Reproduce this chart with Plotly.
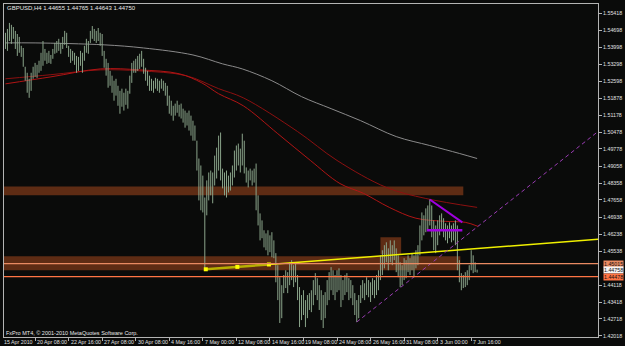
import plotly.graph_objects as go

# ---- OHLC-style bars (high / low), GBPUSD H4, one entry per bar ----
bar_high = [
    1.5460, 1.5476, 1.5501, 1.5493, 1.5484, 1.5468, 1.5455, 1.5443, 1.5406, 1.5397,
    1.5319, 1.5294, 1.5269, 1.5294, 1.5319, 1.5335, 1.5327, 1.5344, 1.5377, 1.5426,
    1.5393, 1.5377, 1.5385, 1.5368, 1.5393, 1.5418, 1.5426, 1.5435, 1.5418, 1.5443,
    1.5468, 1.5460, 1.5406, 1.5393, 1.5385, 1.5377, 1.5364, 1.5360, 1.5385, 1.5377,
    1.5406, 1.5435, 1.5426, 1.5468, 1.5488, 1.5476, 1.5468, 1.5480, 1.5460, 1.5455,
    1.5385, 1.5352, 1.5335, 1.5302, 1.5282, 1.5261, 1.5269, 1.5240, 1.5219, 1.5228,
    1.5211, 1.5228, 1.5219, 1.5282, 1.5335, 1.5344, 1.5352, 1.5364, 1.5373, 1.5385,
    1.5352, 1.5315, 1.5302, 1.5282, 1.5269, 1.5261, 1.5273, 1.5269, 1.5261, 1.5269,
    1.5261, 1.5252, 1.5240, 1.5199, 1.5178, 1.5157, 1.5166, 1.5178, 1.5161, 1.5166,
    1.5145, 1.5137, 1.5128, 1.5137, 1.5116, 1.5095, 1.5075, 1.5012, 1.4938, 1.4909,
    1.4867, 1.4776, 1.4847, 1.4880, 1.4888, 1.4880, 1.4950, 1.4983, 1.5033, 1.5046,
    1.4896, 1.4880, 1.4888, 1.4867, 1.4880, 1.4909, 1.4971, 1.4992, 1.5000, 1.4979,
    1.5041, 1.5012, 1.4901, 1.4888, 1.4896, 1.4888, 1.4896, 1.4917, 1.4785, 1.4710,
    1.4681, 1.4640, 1.4627, 1.4640, 1.4619, 1.4632, 1.4598, 1.4545, 1.4495, 1.4445,
    1.4412, 1.4454, 1.4474, 1.4466, 1.4507, 1.4516, 1.4495, 1.4507, 1.4454, 1.4404,
    1.4371, 1.4391, 1.4350, 1.4371, 1.4379, 1.4391, 1.4433, 1.4462, 1.4441, 1.4412,
    1.4391, 1.4371, 1.4383, 1.4433, 1.4466, 1.4487, 1.4474, 1.4454, 1.4474, 1.4482,
    1.4454, 1.4433, 1.4454, 1.4462, 1.4441, 1.4433, 1.4412, 1.4379, 1.4350, 1.4371,
    1.4412, 1.4433, 1.4420, 1.4445, 1.4433, 1.4424, 1.4441, 1.4433, 1.4454, 1.4474,
    1.4536, 1.4557, 1.4578, 1.4590, 1.4565, 1.4598, 1.4578, 1.4598, 1.4565, 1.4536,
    1.4507, 1.4495, 1.4524, 1.4516, 1.4536, 1.4524, 1.4545, 1.4536, 1.4557, 1.4578,
    1.4660, 1.4714, 1.4702, 1.4731, 1.4743, 1.4768, 1.4743, 1.4681, 1.4660, 1.4681,
    1.4702, 1.4710, 1.4690, 1.4669, 1.4660, 1.4673, 1.4660, 1.4669, 1.4681, 1.4660,
    1.4516, 1.4462, 1.4454, 1.4466, 1.4474, 1.4495, 1.4557, 1.4536, 1.4507, 1.44765,
]
bar_low = [
    1.5393, 1.5385, 1.5426, 1.5414, 1.5435, 1.5393, 1.5364, 1.5377, 1.5360, 1.5319,
    1.5261, 1.5211, 1.5190, 1.5219, 1.5269, 1.5277, 1.5273, 1.5294, 1.5302, 1.5323,
    1.5344, 1.5331, 1.5335, 1.5331, 1.5352, 1.5373, 1.5377, 1.5385, 1.5373, 1.5393,
    1.5410, 1.5397, 1.5360, 1.5335, 1.5344, 1.5327, 1.5294, 1.5302, 1.5323, 1.5294,
    1.5344, 1.5377, 1.5373, 1.5418, 1.5435, 1.5426, 1.5418, 1.5426, 1.5406, 1.5364,
    1.5315, 1.5282, 1.5232, 1.5240, 1.5211, 1.5178, 1.5199, 1.5157, 1.5124, 1.5153,
    1.5137, 1.5161, 1.5145, 1.5207, 1.5252, 1.5294, 1.5294, 1.5302, 1.5310, 1.5319,
    1.5290, 1.5261, 1.5240, 1.5219, 1.5219, 1.5211, 1.5228, 1.5219, 1.5211, 1.5228,
    1.5219, 1.5199, 1.5157, 1.5124, 1.5116, 1.5095, 1.5116, 1.5128, 1.5112, 1.5104,
    1.5087, 1.5066, 1.5075, 1.5054, 1.5033, 1.5012, 1.5012, 1.4888, 1.4764, 1.4723,
    1.4714, 1.4478, 1.4702, 1.4764, 1.4785, 1.4752, 1.4826, 1.4855, 1.4888, 1.4847,
    1.4814, 1.4785, 1.4776, 1.4797, 1.4805, 1.4826, 1.4859, 1.4888, 1.4909, 1.4880,
    1.4909, 1.4876, 1.4838, 1.4818, 1.4847, 1.4826, 1.4838, 1.4723, 1.4660, 1.4598,
    1.4607, 1.4569, 1.4557, 1.4536, 1.4549, 1.4528, 1.4524, 1.4424, 1.4350, 1.4255,
    1.4275, 1.4379, 1.4400, 1.4379, 1.4412, 1.4433, 1.4404, 1.4424, 1.4350, 1.4238,
    1.4267, 1.4288, 1.4238, 1.4275, 1.4309, 1.4300, 1.4329, 1.4371, 1.4350, 1.4309,
    1.4267, 1.4234, 1.4275, 1.4329, 1.4350, 1.4391, 1.4371, 1.4350, 1.4383, 1.4391,
    1.4321, 1.4350, 1.4371, 1.4383, 1.4350, 1.4358, 1.4329, 1.4288, 1.4259, 1.4275,
    1.4338, 1.4358, 1.4350, 1.4371, 1.4362, 1.4342, 1.4371, 1.4358, 1.4371, 1.4391,
    1.4433, 1.4454, 1.4482, 1.4507, 1.4474, 1.4507, 1.4495, 1.4516, 1.4466, 1.4445,
    1.4404, 1.4412, 1.4433, 1.4441, 1.4466, 1.4454, 1.4474, 1.4445, 1.4482, 1.4495,
    1.4536, 1.4598, 1.4619, 1.4632, 1.4640, 1.4660, 1.4611, 1.4557, 1.4545, 1.4578,
    1.4619, 1.4640, 1.4611, 1.4598, 1.4586, 1.4607, 1.4590, 1.4598, 1.4578, 1.4474,
    1.4424, 1.4391, 1.4400, 1.4404, 1.4412, 1.4433, 1.4474, 1.4462, 1.4466, 1.44643,
]

# ---- moving averages (sampled at bar indices) ----
ma_slow_gray_idx = [0, 15, 50, 70, 95, 110, 120, 135, 150, 165, 180, 198, 215, 230, 239]
ma_slow_gray_val = [1.5418, 1.5418, 1.5410, 1.5397, 1.5368, 1.5331, 1.5310, 1.5261,
                    1.5195, 1.5145, 1.5095, 1.5029, 1.4992, 1.4959, 1.4938]
ma_red_a_idx = [0, 23, 48, 68, 91.5, 108, 120.5, 148, 168, 193, 213, 239]
ma_red_a_val = [1.5269, 1.5286, 1.5306, 1.5302, 1.5282, 1.5228, 1.5190, 1.5050,
                1.4930, 1.4818, 1.4772, 1.4735]
ma_red_b_idx = [0, 23, 48, 68, 88, 99.5, 108, 120.5, 138, 154.5, 169.5, 181.5,
                194.5, 208, 223, 233, 239.5]
ma_red_b_val = [1.5248, 1.5277, 1.5310, 1.5306, 1.5290, 1.5252, 1.5207, 1.5157,
                1.5041, 1.4930, 1.4834, 1.4793, 1.4735, 1.4690, 1.4677, 1.4673, 1.4656]

# ---- drawn objects ----
zone_x0 = [-0.75, -0.75, 190]
zone_x1 = [232, 230.5, 200.5]
zone_y0 = [1.4785, 1.4474, 1.4540]
zone_y1 = [1.4822, 1.4532, 1.4611]
hline_prices = [1.45015, 1.44478]
hline_colors = ["#e98a62", "#ff7444"]
bid_price = 1.44758
trend_x = [101.5, 133.5]
trend_y = [1.4478, 1.4498]
tri_x = [215, 231.5]
tri_y = [1.4768, 1.4673]
flat_x = [213.5, 231.5]
flat_y = [1.4640, 1.4640]
channel_x = [178, 300.25]
channel_y = [1.4259, 1.5050]

# ---- axes labels ----
price_ticks = [1.55418, 1.54698, 1.53998, 1.53298, 1.52598, 1.51878, 1.51178, 1.50478,
               1.49778, 1.49058, 1.48358, 1.47658, 1.46938, 1.46238, 1.45538, 1.44118,
               1.43418, 1.42718, 1.42018]
time_label_bars = [-2, 15, 32, 49, 66, 83, 100, 117, 134, 151, 168, 185, 202, 219, 236]
time_labels = ["15 Apr 2010", "20 Apr 08:00", "22 Apr 16:00", "27 Apr 08:00", "30 Apr 08:00",
               "4 May 16:00", "7 May 00:00", "12 May 08:00", "14 May 16:00", "19 May 08:00",
               "24 May 08:00", "26 May 16:00", "31 May 08:00", "3 Jun 00:00", "7 Jun 16:00"]

FONT = "Liberation Sans, Arial, sans-serif"
BG = "#0a0b0a"
FRAME = "#b4b4b4"
X_LO, X_HI = -0.75, 300.25

fig = go.Figure()

# zones (background rectangles)
for x0, x1, y0, y1 in zip(zone_x0, zone_x1, zone_y0, zone_y1):
    fig.add_shape(type="rect", xref="x", yref="y", x0=x0, x1=x1, y0=y0, y1=y1,
                  fillcolor="#5e2c14", line=dict(width=0), layer="below")

# moving averages
fig.add_trace(go.Scatter(x=ma_slow_gray_idx, y=ma_slow_gray_val, mode="lines",
                         line=dict(color="#8a8a8a", width=1, shape="spline"), hoverinfo="skip"))
fig.add_trace(go.Scatter(x=ma_red_a_idx, y=ma_red_a_val, mode="lines",
                         line=dict(color="#8c1010", width=1, shape="spline"), hoverinfo="skip"))
fig.add_trace(go.Scatter(x=ma_red_b_idx, y=ma_red_b_val, mode="lines",
                         line=dict(color="#b01414", width=1, shape="spline"), hoverinfo="skip"))

# price bars
bx, by = [], []
for i, (h, l) in enumerate(zip(bar_high, bar_low)):
    bx += [i, i, None]
    by += [l, h, None]
fig.add_trace(go.Scatter(x=bx, y=by, mode="lines", line=dict(color="#8aa48a", width=1),
                         hoverinfo="skip"))

# horizontal lines
for p, c in zip(hline_prices, hline_colors):
    fig.add_shape(type="line", xref="paper", yref="y", x0=0, x1=1, y0=p, y1=p,
                  line=dict(color=c, width=1.2), layer="above")

# trend line with ray extension
slope = (trend_y[1] - trend_y[0]) / (trend_x[1] - trend_x[0])
fig.add_trace(go.Scatter(x=[trend_x[1], X_HI],
                         y=[trend_y[1], trend_y[1] + slope * (X_HI - trend_x[1])],
                         mode="lines", line=dict(color="#f0f000", width=1.5), hoverinfo="skip"))
fig.add_trace(go.Scatter(x=trend_x, y=trend_y, mode="lines",
                         line=dict(color="#b8b000", width=2.5), hoverinfo="skip"))
mid_x = (trend_x[0] + trend_x[1]) / 2
mid_y = (trend_y[0] + trend_y[1]) / 2
fig.add_trace(go.Scatter(x=[trend_x[0], mid_x, trend_x[1]], y=[trend_y[0], mid_y, trend_y[1]],
                         mode="markers", marker=dict(symbol="square", size=4, color="#ffff00"),
                         hoverinfo="skip"))

# purple lines
fig.add_trace(go.Scatter(x=channel_x, y=channel_y, mode="lines",
                         line=dict(color="#9a3cb4", width=1, dash="4px,3px"), hoverinfo="skip"))
fig.add_trace(go.Scatter(x=tri_x, y=tri_y, mode="lines",
                         line=dict(color="#a000e0", width=2), hoverinfo="skip"))
fig.add_trace(go.Scatter(x=flat_x, y=flat_y, mode="lines",
                         line=dict(color="#a000e0", width=2.5), hoverinfo="skip"))

# texts
ann = []
ann.append(dict(xref="paper", yref="paper", x=0.002, y=(337 - 7) / 334, xanchor="left",
                yanchor="middle", showarrow=False,
                text="GBPUSD,H4 1.44655 1.44765 1.44643 1.44750",
                font=dict(family=FONT, size=6, color="#e8e8e8")))
ann.append(dict(xref="paper", yref="paper", x=0.0, y=(337 - 333) / 334, xanchor="left",
                yanchor="middle", showarrow=False,
                text="FxPro MT4, © 2001-2010 MetaQuotes Software Corp.",
                font=dict(family=FONT, size=5.5, color="#e8e8e8")))
for b, t in zip(time_label_bars, time_labels):
    # position in paper units so labels left of the first bar stay visible
    px = (b - X_LO) / (X_HI - X_LO)
    ann.append(dict(xref="paper", yref="paper", x=px, y=(337 - 342) / 334, xanchor="left",
                    yanchor="middle", showarrow=False, text=t,
                    font=dict(family=FONT, size=5.3, color="#e0e0e0")))
# price boxes on the right axis
for p, bg, fc in [(hline_prices[0], "#e98a62", "#101010"), (bid_price, "#f4f4f4", "#101010"),
                  (hline_prices[1], "#ff7444", "#101010")]:
    ann.append(dict(xref="paper", yref="y", x=1, y=p, xanchor="left", yanchor="middle",
                    xshift=5, showarrow=False, text=f"{p:.5f}", bgcolor=bg, borderpad=0,
                    font=dict(family=FONT, size=5.3, color=fc)))

fig.update_layout(
    width=625, height=346,
    margin=dict(l=3, r=20, t=3, b=9),
    paper_bgcolor=BG, plot_bgcolor=BG,
    showlegend=False,
    annotations=ann,
    xaxis=dict(range=[X_LO, X_HI], showgrid=False, zeroline=False,
               tickvals=time_label_bars[1:], showticklabels=False,
               ticks="outside", ticklen=3, tickcolor=FRAME,
               showline=True, linecolor=FRAME, linewidth=1, mirror=True, fixedrange=True),
    yaxis=dict(range=[1.41968, 1.55796], side="right", showgrid=False, zeroline=False,
               tickvals=price_ticks, ticktext=[f"{v:.5f}" for v in price_ticks],
               ticks="outside", ticklen=3, tickcolor=FRAME,
               tickfont=dict(family=FONT, size=5.3, color="#e0e0e0"),
               showline=True, linecolor=FRAME, linewidth=1, mirror=True, fixedrange=True),
)

fig.write_html("out.html")
